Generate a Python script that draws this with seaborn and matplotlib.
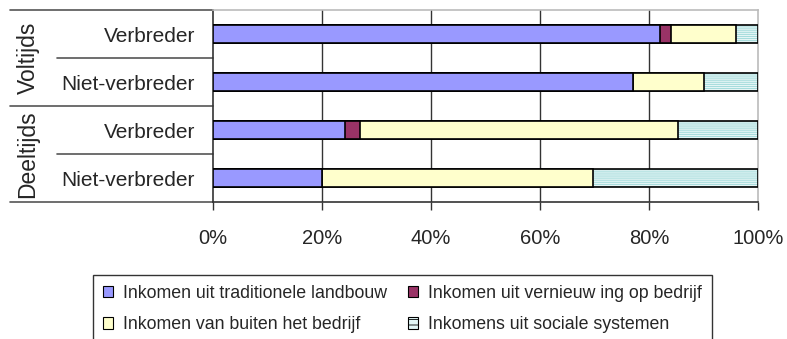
import matplotlib
matplotlib.use("Agg")
import matplotlib.pyplot as plt
import matplotlib.transforms as mtransforms
from matplotlib.patches import Patch
import numpy as np
import pandas as pd
import seaborn as sns

# Data: share of income per source (%)
groups = ["Voltijds", "Voltijds", "Deeltijds", "Deeltijds"]
categories = ["Verbreder", "Niet-verbreder", "Verbreder", "Niet-verbreder"]
traditionele_landbouw = [82.0, 77.0, 24.3, 20.0]
vernieuwing_op_bedrijf = [2.0, 0.0, 2.7, 0.0]
buiten_het_bedrijf = [12.0, 13.0, 58.3, 49.7]
sociale_systemen = [4.0, 10.0, 14.7, 30.3]
series_labels = [
    "Inkomen uit traditionele landbouw",
    "Inkomen uit vernieuw ing op bedrijf",
    "Inkomen van buiten het bedrijf",
    "Inkomens uit sociale systemen",
]
tick_values = [0, 20, 40, 60, 80, 100]
tick_labels = ["0%", "20%", "40%", "60%", "80%", "100%"]

colors = ["#9999FF", "#993366", "#FFFFCC", "#E2F8F8"]
hatch_color = "#9AD8D8"

sns.set_theme(style="white")
plt.rcParams["font.family"] = ["Liberation Sans", "DejaVu Sans"]
plt.rcParams["hatch.linewidth"] = 0.6

series = [traditionele_landbouw, vernieuwing_op_bedrijf, buiten_het_bedrijf, sociale_systemen]
rows = [f"{g}|{c}|{i}" for i, (g, c) in enumerate(zip(groups, categories))]
cum = np.cumsum(np.array(series), axis=0)
df = pd.DataFrame({"row": rows})
for k in range(len(series)):
    df[f"c{k}"] = cum[k]

fig = plt.figure(figsize=(7.87, 3.39), dpi=100)
ax = fig.add_axes([213 / 787, 1 - 202 / 339, 545 / 787, 192 / 339])

bar_w = 0.375
# stacked bars: draw cumulative totals from the outermost layer inwards
for k in range(len(series) - 1, -1, -1):
    n_before = len(ax.patches)
    if k == len(series) - 1:
        sns.barplot(data=df, x=f"c{k}", y="row", orient="h", order=rows,
                    color=colors[k], width=bar_w, edgecolor=hatch_color,
                    linewidth=0, hatch="-" * 8, ax=ax, zorder=3)
        sns.barplot(data=df, x=f"c{k}", y="row", orient="h", order=rows,
                    fill=False, width=bar_w, edgecolor="black",
                    linewidth=1.2, ax=ax, zorder=3)
    else:
        sns.barplot(data=df, x=f"c{k}", y="row", orient="h", order=rows,
                    color=colors[k], width=bar_w, edgecolor="black",
                    linewidth=1.2, ax=ax, zorder=3)
    for p in ax.patches[n_before:]:
        p.set_alpha(None)
        if k < len(series) - 1:
            p.set_facecolor(colors[k])

ax.set_xlim(0, 100)
ax.set_ylim(len(rows) - 0.5, -0.5)
ax.set_xlabel("")
ax.set_ylabel("")
ax.set_xticks(tick_values)
ax.set_xticklabels(tick_labels, fontsize=14.5)
ax.set_yticks(range(len(rows)))
ax.set_yticklabels(categories, fontsize=15)
ax.tick_params(axis="y", length=0, pad=13)
ax.tick_params(axis="x", length=6, width=1, color="#333333", pad=13.5, direction="out", bottom=True)

for x in tick_values[1:-1]:
    ax.axvline(x, color="#333333", lw=1, zorder=1)

for side in ["left", "bottom"]:
    ax.spines[side].set_color("#333333")
    ax.spines[side].set_linewidth(1.2)
for side in ["top", "right"]:
    ax.spines[side].set_color("#BBBBBB")
    ax.spines[side].set_linewidth(1.2)
    ax.spines[side].set_visible(True)

# group separators and group labels at the left
trans = mtransforms.blended_transform_factory(fig.transFigure, ax.transData)
x_axis = 213 / 787
for y in [-0.5, 1.5, 3.5]:
    ax.plot([10 / 787, x_axis], [y, y], transform=trans, color="#555555",
            lw=1.2, clip_on=False)
for y in [0.5, 2.5]:
    ax.plot([57 / 787, x_axis], [y, y], transform=trans, color="#555555",
            lw=1.2, clip_on=False)
for y, g in [(0.5, "Voltijds"), (2.5, "Deeltijds")]:
    ax.text(28 / 787, y, g, transform=trans, rotation=90, ha="center",
            va="center", fontsize=16.5)

handles = [Patch(facecolor=c, edgecolor="black", linewidth=0.8) for c in colors]
handles[3] = Patch(facecolor=colors[3], edgecolor="black", linewidth=0.8, hatch="---")
# two columns filled row by row
order = [0, 2, 1, 3]
leg = fig.legend([handles[i] for i in order], [series_labels[i] for i in order],
                 loc="upper left",
                 bbox_to_anchor=(93 / 787, 1 - 275 / 339), borderaxespad=0,
                 ncol=2, fontsize=12.8, frameon=True, fancybox=False,
                 handlelength=0.6, handleheight=0.6, handletextpad=0.55,
                 columnspacing=1.15, labelspacing=0.82, borderpad=0.55)
leg.get_frame().set_edgecolor("black")
leg.get_frame().set_linewidth(1.0)

fig.savefig("out.png", dpi=100)
